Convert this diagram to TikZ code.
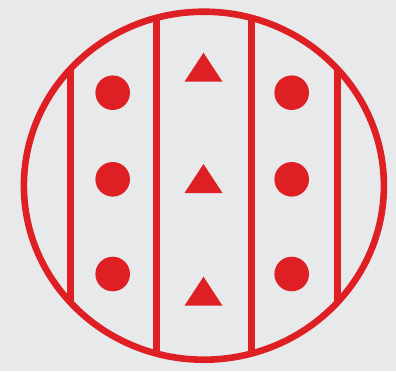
\documentclass[tikz,border=0pt]{standalone}
\definecolor{stampred}{RGB}{222,32,36}
\definecolor{paper}{RGB}{232,233,234}
\begin{document}
\begin{tikzpicture}[
  x=0.05cm, y=-0.05cm,
  ring/.style={draw=stampred, line width=0.33cm},
  bar/.style={draw=stampred, line width=0.36cm},
  dot/.style={fill=stampred},
  tri/.style={fill=stampred}
]

% ------------------------------------------------------------
% Background
% ------------------------------------------------------------
\fill[paper] (0,0) rectangle (396,371);
\useasboundingbox (0,0) rectangle (396,371);

% ------------------------------------------------------------
% Vertical bars, clipped to the disc
% ------------------------------------------------------------
\begin{scope}
  \clip (203.9,185.7) ellipse [x radius=180, y radius=174];
  \foreach \bx in {70.3, 156.7, 251.7, 337.3}
    \draw[bar] (\bx,0) -- (\bx,371);
\end{scope}

% Outer ring
\draw[ring] (203.9,185.7) ellipse [x radius=180, y radius=174];

% ------------------------------------------------------------
% Dots in the two side strips
% ------------------------------------------------------------
\foreach \dy in {92.7, 179.3, 274}
{
  \fill[dot] (112.7,\dy) circle [radius=17.3];
  \fill[dot] (291.7,\dy) circle [radius=17.3];
}

% ------------------------------------------------------------
% Triangles in the middle strip
% ------------------------------------------------------------
\foreach \ty in {52.7, 164, 276.7}
  \fill[tri] (203.5,\ty) -- (222.5,\ty+29) -- (184.5,\ty+29) -- cycle;

\end{tikzpicture}
\end{document}
